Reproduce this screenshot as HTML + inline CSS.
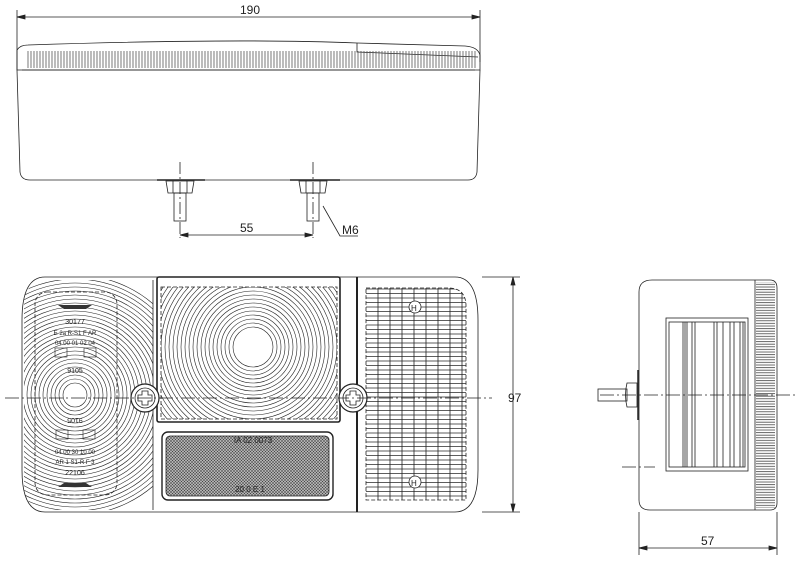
<!DOCTYPE html>
<html><head><meta charset="utf-8"><style>
html,body{margin:0;padding:0;background:#fff;width:800px;height:566px;overflow:hidden}
svg{display:block}
text{font-family:"Liberation Sans",sans-serif;fill:#222}
</style></head><body>
<svg width="800" height="566" viewBox="0 0 800 566" xmlns="http://www.w3.org/2000/svg">
<defs>
<clipPath id="cl"><rect x="24" y="280" width="129" height="230" rx="22"/></clipPath>
<clipPath id="cc"><rect x="161" y="287" width="176" height="132"/></clipPath>
<clipPath id="cr"><path d="M366 288 H448 Q466 288 466 306 V500 H366 Z"/></clipPath>
<pattern id="hx" width="3" height="3" patternUnits="userSpaceOnUse"><rect width="3" height="3" fill="#b0b0b0"/><path d="M0 0L3 3M3 0L0 3" stroke="#444" stroke-width="0.5"/></pattern>
<pattern id="vb" width="3" height="10" patternUnits="userSpaceOnUse"><line x1="1" y1="0" x2="1" y2="10" stroke="#555" stroke-width="0.8"/></pattern>
<pattern id="hb" width="10" height="2.6" patternUnits="userSpaceOnUse"><line x1="0" y1="1" x2="10" y2="1" stroke="#444" stroke-width="0.8"/></pattern>
<pattern id="hg" width="10" height="4.5" patternUnits="userSpaceOnUse"><line x1="0" y1="1" x2="10" y2="1" stroke="#333" stroke-width="0.8"/></pattern>
</defs>
<g fill="none" stroke="#222" stroke-width="0.8">
<!-- top view -->
<line x1="17" y1="10" x2="17" y2="70"/><line x1="480" y1="10" x2="480" y2="62"/>
<line x1="17" y1="17" x2="480" y2="17"/>
<path d="M17 17 l8 -2 v4z M480 17 l-8 -2 v4z" fill="#222"/>
<path d="M17 50 Q20 45 28 45 Q240 38 357 43 L465 46 Q478 47 480 55 L480 70 L17 70 Z"/>
<path d="M357 43 V52 L478 57"/>
<rect x="27" y="51" width="450" height="17" fill="url(#vb)" stroke="none"/>
<line x1="22" y1="70" x2="475" y2="70"/>
<path d="M17 70 L20 172 Q21 180 30 180 H468 Q476 180 477 172 L480 70"/>
<line x1="157" y1="180" x2="205" y2="180" stroke-width="1.5"/>
<line x1="290" y1="180" x2="340" y2="180" stroke-width="1.5"/>
<g id="nut"><path d="M166 181 h28 l-2 12 h-24z"/><line x1="173" y1="181" x2="173" y2="193"/><line x1="187" y1="181" x2="187" y2="193"/><rect x="174" y="193" width="12" height="28"/></g>
<use href="#nut" x="133"/>
<line x1="180" y1="162" x2="180" y2="238" stroke-dasharray="12 3 2 3"/>
<line x1="313" y1="162" x2="313" y2="238" stroke-dasharray="12 3 2 3"/>
<line x1="180" y1="235" x2="313" y2="235"/>
<path d="M180 235 l8 -2 v4z M313 235 l-8 -2 v4z" fill="#222"/>
<path d="M323 206 L340 236 H358"/>
<!-- front view -->
<path d="M45 277 H455 Q478 277 478 320 V470 Q478 512 455 512 H45 Q22 512 22 470 V320 Q22 277 45 277 Z"/>
<g clip-path="url(#cl)" stroke-width="0.6">
<circle cx="75" cy="395" r="12"/><circle cx="75" cy="395" r="16"/><circle cx="75" cy="395" r="20"/><circle cx="75" cy="395" r="24"/><circle cx="75" cy="395" r="28"/><circle cx="75" cy="395" r="32"/><circle cx="75" cy="395" r="36"/><circle cx="75" cy="395" r="40"/><circle cx="75" cy="395" r="44"/><circle cx="75" cy="395" r="48"/><circle cx="75" cy="395" r="52"/><circle cx="75" cy="395" r="56"/><circle cx="75" cy="395" r="60"/><circle cx="75" cy="395" r="64"/><circle cx="75" cy="395" r="68"/><circle cx="75" cy="395" r="72"/><circle cx="75" cy="395" r="76"/><circle cx="75" cy="395" r="80"/><circle cx="75" cy="395" r="84"/><circle cx="75" cy="395" r="88"/><circle cx="75" cy="395" r="92"/><circle cx="75" cy="395" r="96"/><circle cx="75" cy="395" r="100"/><circle cx="75" cy="395" r="104"/><circle cx="75" cy="395" r="108"/><circle cx="75" cy="395" r="112"/><circle cx="75" cy="395" r="116"/><circle cx="75" cy="395" r="120"/>
</g>
<rect x="35" y="292" width="82" height="203" rx="12" stroke-dasharray="4 2"/>
<line x1="153" y1="280" x2="153" y2="510"/>
<rect x="157" y="277" width="183" height="145" rx="2" stroke-width="1.6"/>
<g clip-path="url(#cc)" stroke-width="0.6">
<circle cx="253" cy="347" r="20"/><circle cx="253" cy="347" r="24"/><circle cx="253" cy="347" r="28"/><circle cx="253" cy="347" r="32"/><circle cx="253" cy="347" r="36"/><circle cx="253" cy="347" r="40"/><circle cx="253" cy="347" r="44"/><circle cx="253" cy="347" r="48"/><circle cx="253" cy="347" r="52"/><circle cx="253" cy="347" r="56"/><circle cx="253" cy="347" r="60"/><circle cx="253" cy="347" r="64"/><circle cx="253" cy="347" r="68"/><circle cx="253" cy="347" r="72"/><circle cx="253" cy="347" r="76"/><circle cx="253" cy="347" r="80"/><circle cx="253" cy="347" r="84"/><circle cx="253" cy="347" r="88"/><circle cx="253" cy="347" r="92"/><circle cx="253" cy="347" r="96"/><circle cx="253" cy="347" r="100"/><circle cx="253" cy="347" r="104"/><circle cx="253" cy="347" r="108"/><circle cx="253" cy="347" r="112"/>
</g>
<rect x="161" y="287" width="176" height="132" stroke-dasharray="4 2"/>
<rect x="162" y="432" width="171" height="68" rx="6" stroke-width="1.4"/>
<rect x="166" y="436" width="163" height="60" rx="4" fill="url(#hx)"/>
<line x1="357" y1="277" x2="357" y2="512" stroke-width="2"/>
<rect x="366" y="288" width="100" height="212" fill="url(#hg)" stroke="none" clip-path="url(#cr)"/>
<g clip-path="url(#cr)" stroke-width="0.8">
<path d="M378 288V500M390 288V500M402 288V500M414 288V500M426 288V500M438 288V500M450 288V500M462 288V500"/>
</g>
<path d="M366 288 H448 Q466 288 466 306 V500 H366 Z" stroke-dasharray="4 2"/>
<circle cx="415" cy="307" r="6" fill="#fff"/><circle cx="415" cy="482" r="6" fill="#fff"/>
<circle cx="145" cy="398" r="14" fill="#fff" stroke-width="1.2"/><circle cx="145" cy="398" r="10"/>
<circle cx="353" cy="398" r="14" fill="#fff" stroke-width="1.2"/><circle cx="353" cy="398" r="10"/>
<path d="M142 391h6v4h4v6h-4v4h-6v-4h-4v-6h4z M350 391h6v4h4v6h-4v4h-6v-4h-4v-6h4z"/>
<line x1="5" y1="398" x2="492" y2="398" stroke-dasharray="14 3 2 3"/>
<line x1="482" y1="277" x2="520" y2="277"/><line x1="482" y1="512" x2="520" y2="512"/>
<line x1="513" y1="277" x2="513" y2="512"/>
<path d="M513 277 l-2 8 h4z M513 512 l-2 -8 h4z" fill="#222"/>
<!-- side view -->
<path d="M652 280 H770 Q777 280 777 288 V503 Q777 510 770 510 H650 Q639 510 639 500 V292 Q639 280 652 280 Z"/>
<rect x="756" y="282" width="19" height="226" fill="url(#hb)" stroke="none"/>
<line x1="755" y1="280" x2="755" y2="510"/>
<rect x="666" y="318" width="82" height="153"/>
<rect x="669" y="322" width="76" height="145"/>
<path d="M683 322V467 M685 322V467 M687 322V467 M692 322V467 M695 322V467 M714 322V467 M717 322V467 M723 322V467 M730 322V467 M734 322V467 M740 322V467 M743 322V467"/>
<line x1="638" y1="370" x2="638" y2="420" stroke-width="1.5"/>
<path d="M627 383 h10 v24 h-10 q-3 -12 0 -24z"/>
<rect x="598" y="389" width="29" height="12"/>
<line x1="600" y1="395" x2="795" y2="395" stroke-dasharray="14 3 2 3"/>
<line x1="622" y1="467" x2="655" y2="467" stroke-dasharray="14 3 2 3"/>
<line x1="639" y1="512" x2="639" y2="555"/><line x1="777" y1="512" x2="777" y2="555"/>
<line x1="639" y1="548" x2="777" y2="548"/>
<path d="M639 548 l8 -2 v4z M777 548 l-8 -2 v4z" fill="#222"/>
</g>
<text x="240" y="14" font-size="12">190</text>
<text x="240" y="232" font-size="12">55</text>
<text x="342" y="234" font-size="12">M6</text>
<text x="508" y="402" font-size="12">97</text>
<text x="701" y="545" font-size="12">57</text>
<g font-size="7" text-anchor="middle">
<text x="75" y="324">30177</text>
<text x="75" y="335" font-size="6">E 2a R-S1 F AR</text>
<text x="75" y="345" font-size="6">04 00 01 02 04</text>
<text x="75" y="373">9105</text>
<text x="75" y="424" transform="rotate(180 75 421)">9105</text>
<text x="75" y="454" font-size="6">04 00 30 10 00</text>
<text x="75" y="464" font-size="6">AR 1 S1-R F 3</text>
<text x="75" y="475">22106</text>
<text x="253" y="443" font-size="8">IA  02 0073</text>
<text x="250" y="492" font-size="8">20 0 E 1</text>
</g>
<rect x="55" y="348" width="12" height="9" fill="none" stroke="#222" stroke-width="0.6"/>
<rect x="84" y="348" width="12" height="9" fill="none" stroke="#222" stroke-width="0.6"/>
<rect x="56" y="430" width="12" height="9" fill="none" stroke="#222" stroke-width="0.6"/>
<rect x="83" y="430" width="12" height="9" fill="none" stroke="#222" stroke-width="0.6"/>
<path d="M58 305 h34 l-6 4 h-22z M58 487 h34 l-6 -4 h-22z" fill="#333"/>
<text x="411" y="311" font-size="8" font-family="Liberation Sans">H</text>
<text x="411" y="486" font-size="8" font-family="Liberation Sans">H</text>
</svg>
</body></html>
